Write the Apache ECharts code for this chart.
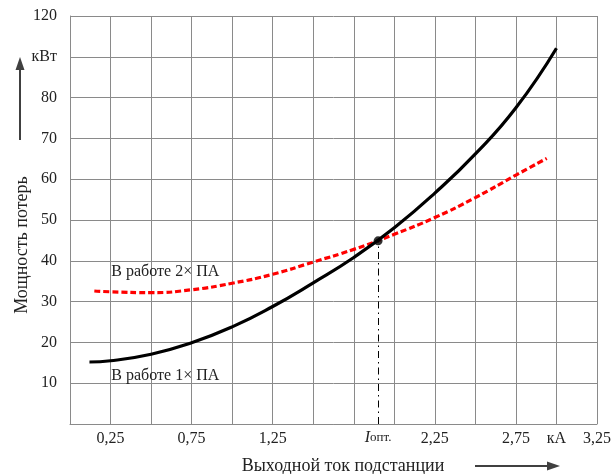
<!DOCTYPE html>
<html><head><meta charset="utf-8">
<script src="https://cdn.jsdelivr.net/npm/echarts@6/dist/echarts.min.js"></script>
<style>html,body{margin:0;padding:0;background:#fff}#c{width:614px;height:474px}</style>
</head><body><div id="c"></div>
<script>
var oneX = [0.12, 0.25, 0.5, 0.75, 1.0, 1.25, 1.5, 1.75, 2.0, 2.25, 2.5, 2.75, 3.0];
var oneY = [15.2, 15.5, 17.1, 19.9, 23.8, 28.8, 34.6, 40.8, 48.1, 56.6, 66.2, 77.5, 92.1];
var twoX = [0.15, 0.25, 0.5, 0.75, 1.0, 1.25, 1.5, 1.75, 2.0, 2.25, 2.5, 2.75, 2.94];
var twoY = [32.6, 32.4, 32.2, 32.9, 34.5, 36.7, 39.7, 42.8, 46.5, 50.6, 55.5, 61.0, 65.1];
var optX = 1.9, optY = 44.9;
var xTickLabels = {"0.25":"0,25","0.75":"0,75","1.25":"1,25","2.25":"2,25","2.75":"2,75","3":"кА","3.25":"3,25"};
var yTickLabels = {"10":"10","20":"20","30":"30","40":"40","50":"50","60":"60","70":"70","80":"80","90":"кВт","100":"120"};

function pairs(xs, ys){ return xs.map(function(x,i){return [x, ys[i]];}); }
var serif = 'Liberation Serif';
var gridColor = '#8a8a8a';
var chart = echarts.init(document.getElementById('c'));
chart.setOption({
  animation:false,
  grid:{left:70, top:16, right:14, bottom:50, show:false},
  xAxis:{type:'value', min:0, max:3.25, interval:0.25,
    axisLine:{show:true, lineStyle:{color:gridColor, width:1}},
    axisTick:{show:false},
    splitLine:{show:true, lineStyle:{color:gridColor, width:1}},
    axisLabel:{color:'#222', fontFamily:serif, fontSize:16, margin:7,
      formatter:function(v){ var k = String(Math.round(v*100)/100); return xTickLabels[k] || ''; }}
  },
  yAxis:{type:'value', min:0, max:100, interval:10,
    axisLine:{show:true, lineStyle:{color:gridColor, width:1}},
    axisTick:{show:false},
    splitLine:{show:true, lineStyle:{color:gridColor, width:1}},
    axisLabel:{color:'#222', fontFamily:serif, fontSize:16, margin:13,
      formatter:function(v){ return yTickLabels[String(Math.round(v))] || ''; }}
  },
  series:[
    {type:'line', data:pairs(oneX, oneY), smooth:0.5, showSymbol:false,
     lineStyle:{color:'#000', width:3.2}, z:3,
     markPoint:{symbol:'circle', symbolSize:0, silent:true,
       label:{show:true, position:'right', distance:0, color:'#222', fontFamily:serif, fontSize:16, formatter:'В работе 1× ПА'},
       data:[{coord:[0.255, 11.8]}]},
     markLine:{symbol:['none','none'], silent:true,
       lineStyle:{color:'#000', width:1, type:[7,4,1.5,4]},
       label:{show:true, position:'start', distance:6,
         formatter:'{i|I}{n|опт.}',
         rich:{i:{fontFamily:serif, fontStyle:'italic', fontSize:16, color:'#222'},
               n:{fontFamily:serif, fontSize:13, color:'#222'}}},
       data:[[{coord:[optX, 0]},{coord:[optX, optY]}]]}
    },
    {type:'line', data:pairs(twoX, twoY), smooth:0.5, showSymbol:false,
     lineStyle:{color:'#ff0000', width:3.2, type:[6,3]}, z:2,
     markPoint:{symbol:'circle', symbolSize:0, silent:true,
       label:{show:true, position:'right', distance:0, color:'#222', fontFamily:serif, fontSize:16, formatter:'В работе 2× ПА'},
       data:[{coord:[0.255, 37.4]}]}
    },
    {type:'scatter', data:[[optX, optY]], symbol:'circle', symbolSize:9,
     itemStyle:{color:'#000'}, z:5}
  ],
  graphic:[
    {type:'text', x:22, y:245, rotation:Math.PI/2,
     style:{text:'Мощность потерь', font:'18px "Liberation Serif"', fill:'#222', align:'center', verticalAlign:'middle'}},
    {type:'line', shape:{x1:20, y1:140, x2:20, y2:68}, style:{stroke:'#404040', lineWidth:2}},
    {type:'polygon', shape:{points:[[20,57],[15.5,70],[24.5,70]]}, style:{fill:'#404040'}},
    {type:'text', x:343, y:466,
     style:{text:'Выходной ток подстанции', font:'18px "Liberation Serif"', fill:'#222', align:'center', verticalAlign:'middle'}},
    {type:'line', shape:{x1:475, y1:466, x2:548, y2:466}, style:{stroke:'#404040', lineWidth:2}},
    {type:'polygon', shape:{points:[[560,466],[547,461.5],[547,470.5]]}, style:{fill:'#404040'}}
  ]
});
</script></body></html>
